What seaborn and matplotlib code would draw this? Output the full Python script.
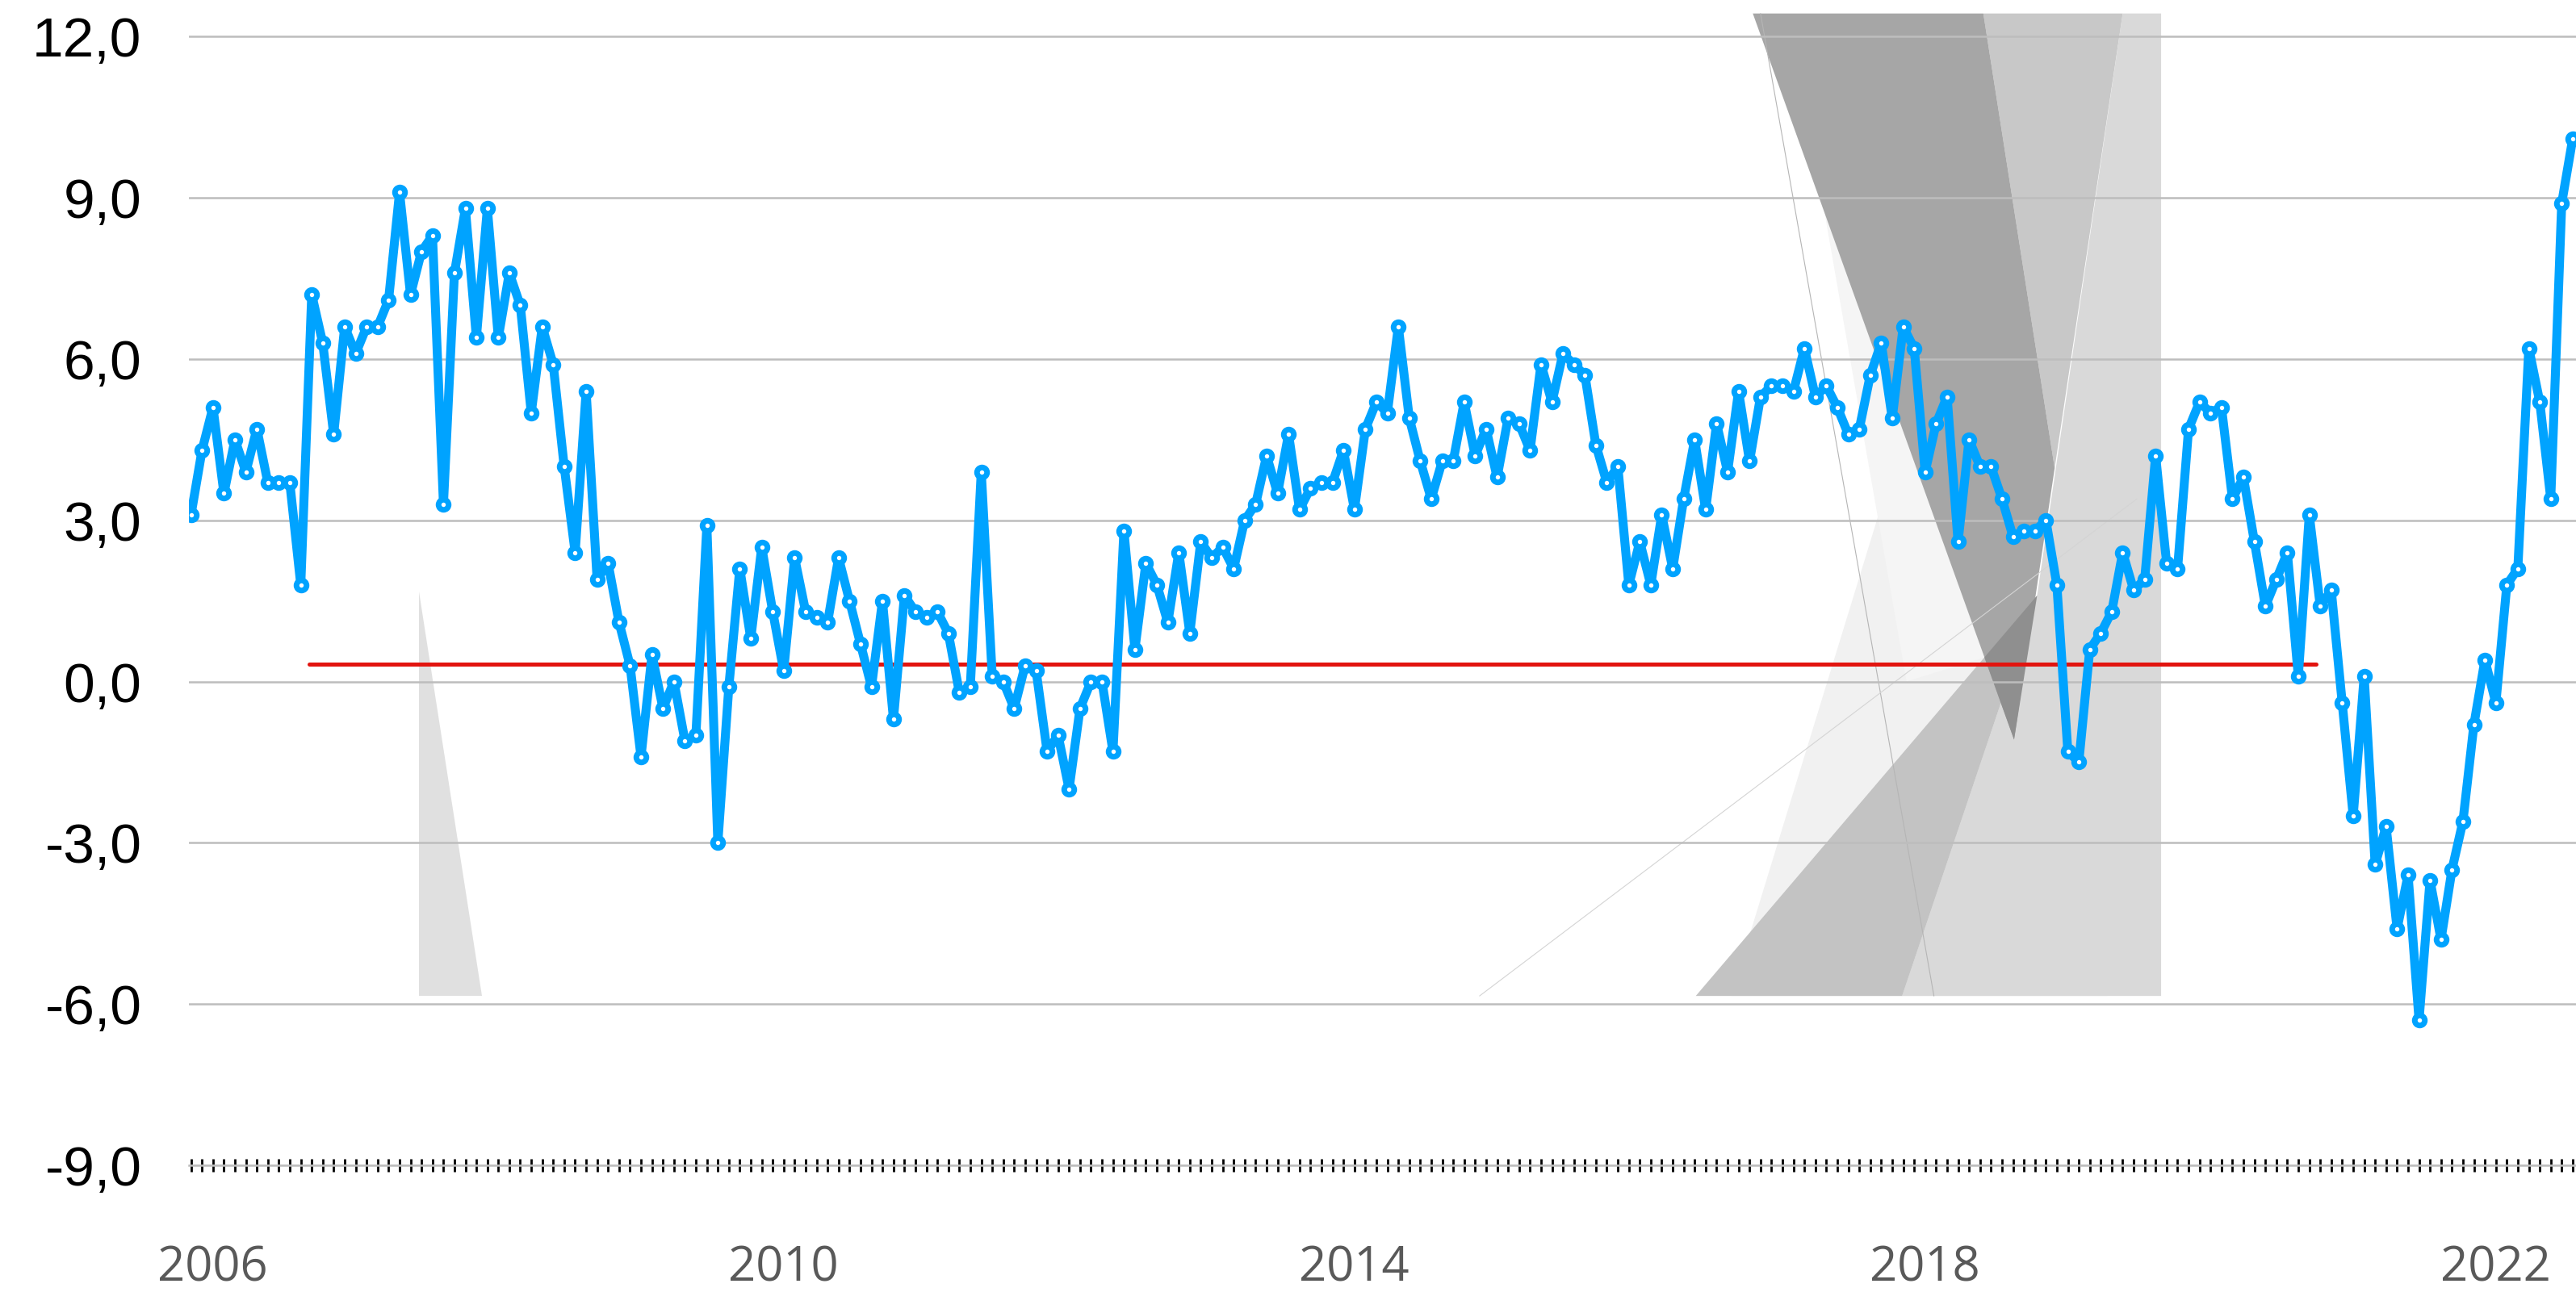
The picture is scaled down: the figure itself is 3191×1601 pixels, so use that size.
import matplotlib
matplotlib.use("Agg")
import matplotlib.pyplot as plt
import numpy as np
import pandas as pd
import seaborn as sns
from matplotlib.ticker import FuncFormatter

sns.set_theme(style="white")

# four-weekly series (13 periods a year), first period sits two periods before Jan 2006
values = [
    3.1, 4.3, 5.1, 3.5, 4.5, 3.9, 4.7, 3.7, 3.7, 3.7,
    1.8, 7.2, 6.3, 4.6, 6.6, 6.1, 6.6, 6.6, 7.1, 9.1,
    7.2, 8.0, 8.3, 3.3, 7.6, 8.8, 6.4, 8.8, 6.4, 7.6,
    7.0, 5.0, 6.6, 5.9, 4.0, 2.4, 5.4, 1.9, 2.2, 1.1,
    0.3, -1.4, 0.5, -0.5, 0.0, -1.1, -1.0, 2.9, -3.0, -0.1,
    2.1, 0.8, 2.5, 1.3, 0.2, 2.3, 1.3, 1.2, 1.1, 2.3,
    1.5, 0.7, -0.1, 1.5, -0.7, 1.6, 1.3, 1.2, 1.3, 0.9,
    -0.2, -0.1, 3.9, 0.1, 0.0, -0.5, 0.3, 0.2, -1.3, -1.0,
    -2.0, -0.5, 0.0, 0.0, -1.3, 2.8, 0.6, 2.2, 1.8, 1.1,
    2.4, 0.9, 2.6, 2.3, 2.5, 2.1, 3.0, 3.3, 4.2, 3.5,
    4.6, 3.2, 3.6, 3.7, 3.7, 4.3, 3.2, 4.7, 5.2, 5.0,
    6.6, 4.9, 4.1, 3.4, 4.1, 4.1, 5.2, 4.2, 4.7, 3.8,
    4.9, 4.8, 4.3, 5.9, 5.2, 6.1, 5.9, 5.7, 4.4, 3.7,
    4.0, 1.8, 2.6, 1.8, 3.1, 2.1, 3.4, 4.5, 3.2, 4.8,
    3.9, 5.4, 4.1, 5.3, 5.5, 5.5, 5.4, 6.2, 5.3, 5.5,
    5.1, 4.6, 4.7, 5.7, 6.3, 4.9, 6.6, 6.2, 3.9, 4.8,
    5.3, 2.6, 4.5, 4.0, 4.0, 3.4, 2.7, 2.8, 2.8, 3.0,
    1.8, -1.3, -1.5, 0.6, 0.9, 1.3, 2.4, 1.7, 1.9, 4.2,
    2.2, 2.1, 4.7, 5.2, 5.0, 5.1, 3.4, 3.8, 2.6, 1.4,
    1.9, 2.4, 0.1, 3.1, 1.4, 1.7, -0.4, -2.5, 0.1, -3.4,
    -2.7, -4.6, -3.6, -6.3, -3.7, -4.8, -3.5, -2.6, -0.8, 0.4,
    -0.4, 1.8, 2.1, 6.2, 5.2, 3.4, 8.9, 10.1,
]
years = [2006, 2010, 2014, 2018, 2022]
periods_per_year = 13
first_period_of_2006 = 2

# average line (level and the periods it covers)
avg_level = 0.33
avg_span = [10.8, 193.6]

# grey shading left in the source chart, as (period, value) vertices
shade_small = [(20.8, 1.68), (20.8, -5.85), (26.5, -5.85)]
shade_pale = [(140.3, -5.85), (156.0, 4.6), (174.6, -5.85)]
shade_pale_top = [(148.6, 9.0), (156.3, 0.0), (163.4, 0.45)]
shade_light = [(176.0, 12.43), (179.5, 12.43), (179.5, -5.85), (155.9, -5.85), (168.2, 1.6)]
shade_mid_top = [(163.3, 12.43), (176.0, 12.43), (169.8, 3.97)]
shade_mid_low = [(137.1, -5.85), (155.9, -5.85), (168.2, 1.6)]
shade_dark = [(142.3, 12.43), (163.3, 12.43), (169.8, 3.97), (166.1, -1.08)]
shade_darkest = [(163.4, 0.45), (168.2, 1.6), (166.1, -1.08)]
hairline_a = [(143.0, 12.43), (158.8, -5.85)]
hairline_b = [(117.4, -5.85), (177.3, 3.4)]

df = pd.DataFrame({"period": np.arange(len(values)), "value": values})

fig = plt.figure(figsize=(31.91, 16.01), dpi=100)
ax = fig.add_axes([0.0733, 0.0981, 0.9267, 0.8923])

shades = [
    (shade_small, "#e0e0e0"),
    (shade_pale, "#f1f1f1"),
    (shade_pale_top, "#f5f5f5"),
    (shade_light, "#d9d9d9"),
    (shade_mid_top, "#c8c8c8"),
    (shade_mid_low, "#c3c3c3"),
    (shade_dark, "#a6a6a6"),
    (shade_darkest, "#8f8f8f"),
]
for verts, col in shades:
    xs, ys = zip(*verts)
    ax.fill(xs, ys, color=col, lw=0, zorder=0.3)
for seg, col in [(hairline_a, "#b5b5b5"), (hairline_b, "#d4d4d4")]:
    xs, ys = zip(*seg)
    ax.plot(xs, ys, color=col, lw=0.8, zorder=0.4)

sns.lineplot(x=avg_span, y=[avg_level, avg_level], ax=ax, color="#e2140f", linewidth=3.6, zorder=2)
sns.lineplot(
    data=df, x="period", y="value", ax=ax, color="#00a3ff", linewidth=8,
    marker="o", markersize=9, markeredgewidth=5, markerfacecolor="white",
    markeredgecolor="#00a3ff", zorder=3,
)

ax.set_xlim(-0.2, 217.3)
ax.set_ylim(-9, 12.45)
ax.set_xlabel("")
ax.set_ylabel("")

# one tick per period, year labels every 4 years
labels = [""] * len(values)
for y in years:
    labels[first_period_of_2006 + (y - 2006) * periods_per_year] = str(y)
ax.set_xticks(np.arange(len(values)))
ax.set_xticklabels(labels, fontfamily="Open Sans", fontsize=43, color="#595959")
ax.tick_params(axis="x", bottom=True, direction="inout", length=12, width=2,
               color="black", pad=64)

ax.set_yticks(np.arange(-9, 13, 3))
ax.yaxis.set_major_formatter(FuncFormatter(lambda v, p: f"{v:.1f}".replace(".", ",")))
for lab in ax.get_yticklabels():
    lab.set_fontfamily("Liberation Sans")
ax.tick_params(axis="y", left=False, length=0, pad=42, labelsize=50, labelcolor="black")

ax.set_axisbelow(True)
ax.grid(axis="y", color="#bdbdbd", lw=1.8)
ax.grid(axis="x", visible=False)
for side in ["left", "right", "top"]:
    ax.spines[side].set_visible(False)
ax.spines["bottom"].set_color("#bdbdbd")
ax.spines["bottom"].set_linewidth(1.8)

fig.savefig("out.png", dpi=100)
